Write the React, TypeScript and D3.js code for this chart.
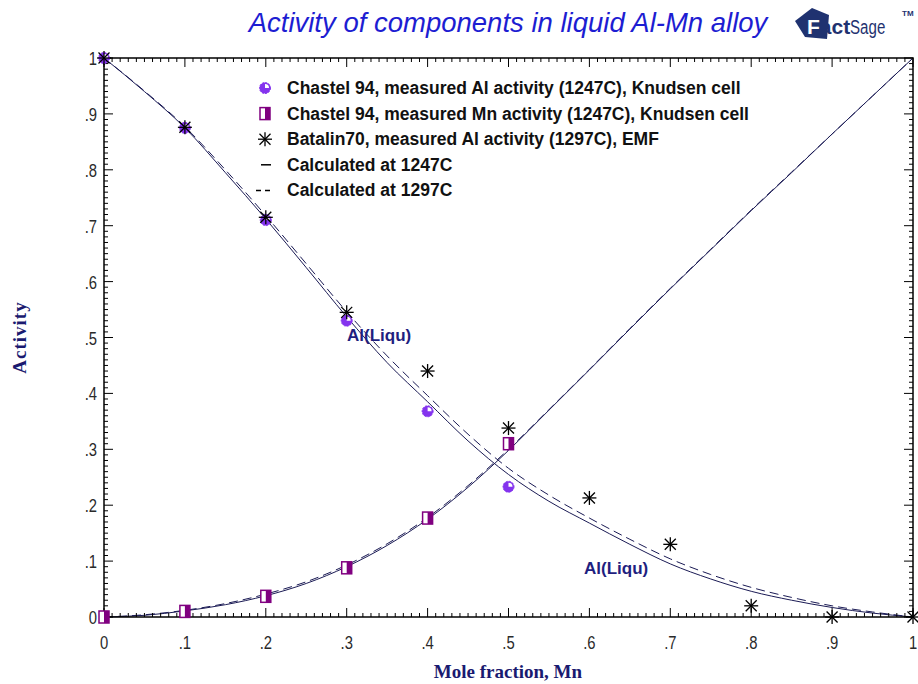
import React from "react";
import * as d3 from "d3";

// Mole fraction grid for the calculated curves
const calcX = [0, 0.05, 0.1, 0.15, 0.2, 0.25, 0.3, 0.35, 0.4, 0.45, 0.5, 0.55, 0.6, 0.65, 0.7, 0.75, 0.8, 0.85, 0.9, 0.95, 1];
// Calculated Al activity at 1247C (solid) and 1297C (dashed)
const alCalc1247 = [1, 0.94, 0.875, 0.795, 0.712, 0.625, 0.537, 0.455, 0.385, 0.315, 0.255, 0.207, 0.168, 0.13, 0.095, 0.068, 0.046, 0.03, 0.017, 0.007, 0];
const alCalc1297 = [1, 0.941, 0.877, 0.8, 0.718, 0.632, 0.546, 0.467, 0.396, 0.327, 0.266, 0.218, 0.177, 0.139, 0.104, 0.076, 0.053, 0.035, 0.02, 0.009, 0];
// Calculated Mn activity at 1247C and 1297C
const mnCalc1247 = [0, 0.003, 0.011, 0.022, 0.038, 0.06, 0.09, 0.128, 0.175, 0.232, 0.298, 0.37, 0.442, 0.515, 0.587, 0.657, 0.727, 0.795, 0.864, 0.932, 1];
const mnCalc1297 = [0, 0.004, 0.012, 0.024, 0.041, 0.063, 0.093, 0.131, 0.178, 0.235, 0.3, 0.371, 0.443, 0.516, 0.588, 0.658, 0.728, 0.796, 0.864, 0.932, 1];

// Chastel 94, Knudsen cell, 1247C
const chastelX = [0, 0.1, 0.2, 0.3, 0.4, 0.5];
const chastelAl = [1, 0.875, 0.71, 0.53, 0.368, 0.233];
const chastelMn = [0, 0.01, 0.037, 0.088, 0.177, 0.31];

// Batalin70, EMF, 1297C
const batalinX = [0, 0.1, 0.2, 0.3, 0.4, 0.5, 0.6, 0.7, 0.8, 0.9, 1];
const batalinAl = [1, 0.876, 0.715, 0.545, 0.44, 0.338, 0.213, 0.13, 0.02, 0, 0];

const tickValues = [0, 0.1, 0.2, 0.3, 0.4, 0.5, 0.6, 0.7, 0.8, 0.9, 1];
const tickLabels = ["0", ".1", ".2", ".3", ".4", ".5", ".6", ".7", ".8", ".9", "1"];
const minorTicks = d3.range(0, 101).map((i) => i / 100);

const legendItems = [
  { kind: "alPt", text: "Chastel 94, measured Al activity (1247C), Knudsen cell" },
  { kind: "mnPt", text: "Chastel 94, measured Mn activity (1247C), Knudsen cell" },
  { kind: "star", text: "Batalin70, measured Al activity (1297C), EMF" },
  { kind: "solid", text: "Calculated at 1247C" },
  { kind: "dash", text: "Calculated at 1297C" },
];

const W = 918;
const H = 684;
const left = 104, right = 913, top = 58, bottom = 617;

const CURVE = "#1b1b55";
const VIOLET = "#8433ee";
const PURPLE = "#800080";
const NAVY = "#1f3270";
const SANS = "'Liberation Sans', Arial, sans-serif";
const SERIF = "'Liberation Serif', 'Times New Roman', serif";

function AlMarker({ x, y }: { x: number; y: number }) {
  const r = 5.5;
  return (
    <g transform={`translate(${x},${y})`}>
      <circle r={r} fill={VIOLET} stroke={VIOLET} strokeWidth={1} strokeDasharray="2,1.2" />
      <path d={`M0,0 L0,${-r + 1.5} A${r - 1.5},${r - 1.5} 0 0 1 ${r - 1.5},0 Z`} fill="#fff" />
    </g>
  );
}

function MnMarker({ x, y }: { x: number; y: number }) {
  return (
    <g transform={`translate(${x},${y})`}>
      <rect x={-5} y={-6} width={10} height={12} fill="#fff" stroke={PURPLE} strokeWidth={1.5} />
      <rect x={0} y={-6} width={5} height={12} fill={PURPLE} />
    </g>
  );
}

function Star({ x, y }: { x: number; y: number }) {
  const a = 7, d = 5.5;
  return (
    <g transform={`translate(${x},${y})`} stroke="#000" strokeWidth={1.3}>
      <line x1={-a} y1={0} x2={a} y2={0} />
      <line x1={0} y1={-a} x2={0} y2={a} />
      <line x1={-d} y1={-d} x2={d} y2={d} />
      <line x1={-d} y1={d} x2={d} y2={-d} />
    </g>
  );
}

function TickLabel({ x, y, anchor, text }: { x: number; y: number; anchor: "middle" | "end"; text: string }) {
  return (
    <text
      transform={`translate(${x},${y}) scale(0.78,1)`}
      textAnchor={anchor}
      fontFamily={SANS}
      fontSize={19}
      fill="#2a2a2a"
    >
      {text}
    </text>
  );
}

export default function App() {
  const x = d3.scaleLinear().domain([0, 1]).range([left, right]);
  const y = d3.scaleLinear().domain([0, 1]).range([bottom, top]);

  const line = d3
    .line<[number, number]>()
    .x((d) => x(d[0]))
    .y((d) => y(d[1]))
    .curve(d3.curveMonotoneX);

  const pts = (ys: number[]) => calcX.map((v, i) => [v, ys[i]] as [number, number]);

  return (
    <svg width={W} height={H} style={{ display: "block", position: "absolute", left: 0, top: 0, background: "#fff" }}>
      <rect width={W} height={H} fill="#fff" />

      {/* Title */}
      <text x={508} y={32} textAnchor="middle" fontFamily={SANS} fontStyle="italic" fontSize={27.5} fill="#1d1dd2">
        Activity of components in liquid Al-Mn alloy
      </text>

      {/* FactSage logo */}
      <g>
        <path d="M795,21 L812,8 L829,15 L827,39 L805,37 Z" fill={NAVY} />
        <text x={807} y={34} fontFamily={SANS} fontWeight="bold" fontSize={21} fill={NAVY}>
          <tspan fill="#fff">F</tspan>act
        </text>
        <text transform="translate(850,34) scale(0.72,1)" fontFamily={SANS} fontSize={21} fill={NAVY}>
          Sage
        </text>
        <text x={902} y={16} fontFamily={SANS} fontWeight="bold" fontSize={8} fill={NAVY}>
          TM
        </text>
      </g>

      {/* Calculated curves */}
      <path d={line(pts(alCalc1247)) || ""} fill="none" stroke={CURVE} strokeWidth={1} />
      <path d={line(pts(alCalc1297)) || ""} fill="none" stroke={CURVE} strokeWidth={1} strokeDasharray="9,5" />
      <path d={line(pts(mnCalc1247)) || ""} fill="none" stroke={CURVE} strokeWidth={1} />
      <path d={line(pts(mnCalc1297)) || ""} fill="none" stroke={CURVE} strokeWidth={1} strokeDasharray="9,5" />

      {/* Legend */}
      {legendItems.map((it, i) => {
        const cy = 88 + i * 25.6;
        let sym: React.ReactNode = null;
        if (it.kind === "alPt") sym = <AlMarker x={265} y={cy} />;
        else if (it.kind === "mnPt") sym = <MnMarker x={265} y={cy} />;
        else if (it.kind === "star") sym = <Star x={265} y={cy} />;
        else if (it.kind === "solid") sym = <line x1={261} x2={271} y1={cy} y2={cy} stroke="#000" strokeWidth={1.5} />;
        else sym = <line x1={256} x2={272} y1={cy} y2={cy} stroke="#000" strokeWidth={1.5} strokeDasharray="5,4" />;
        return (
          <g key={it.text}>
            {sym}
            <text x={287} y={cy + 6} fontFamily={SANS} fontWeight="bold" fontSize={17.5} fill="#111">
              {it.text}
            </text>
          </g>
        );
      })}

      {/* Curve labels */}
      <text x={347} y={341} fontFamily={SANS} fontWeight="bold" fontSize={17} fill="#1f1f80">
        Al(Liqu)
      </text>
      <text x={584} y={574} fontFamily={SANS} fontWeight="bold" fontSize={17} fill="#1f1f80">
        Al(Liqu)
      </text>

      {/* Frame and ticks */}
      <rect x={left} y={top} width={right - left} height={bottom - top} fill="none" stroke="#000" strokeWidth={1.5} />
      {minorTicks.map((t, i) => {
        const major = i % 10 === 0;
        const len = major ? 9 : 4;
        return (
          <g key={i} stroke="#000" strokeWidth={1}>
            <line x1={x(t)} x2={x(t)} y1={bottom} y2={bottom - len} />
            <line x1={x(t)} x2={x(t)} y1={top} y2={top + len} />
            <line x1={left} x2={left + len} y1={y(t)} y2={y(t)} />
            <line x1={right} x2={right - len} y1={y(t)} y2={y(t)} />
          </g>
        );
      })}

      {/* Tick labels */}
      {tickValues.map((t, i) => (
        <TickLabel key={"x" + i} x={x(t)} y={649} anchor="middle" text={tickLabels[i]} />
      ))}
      {tickValues.map((t, i) => (
        <TickLabel key={"y" + i} x={97} y={y(t) + 7} anchor="end" text={tickLabels[i]} />
      ))}

      {/* Axis titles */}
      <text x={508} y={678} textAnchor="middle" fontFamily={SERIF} fontWeight="bold" fontSize={19} fill="#1a1a70">
        Mole fraction, Mn
      </text>
      <text
        transform={`translate(26,${(top + bottom) / 2}) rotate(-90)`}
        textAnchor="middle"
        fontFamily={SERIF}
        fontWeight="bold"
        fontSize={19}
        letterSpacing={1}
        fill="#1a1a70"
      >
        Activity
      </text>

      {/* Measured points */}
      {chastelX.map((v, i) => (
        <MnMarker key={"mn" + i} x={x(v)} y={y(chastelMn[i])} />
      ))}
      {chastelX.map((v, i) => (
        <AlMarker key={"al" + i} x={x(v)} y={y(chastelAl[i])} />
      ))}
      {batalinX.map((v, i) => (
        <Star key={"b" + i} x={x(v)} y={y(batalinAl[i])} />
      ))}
    </svg>
  );
}
